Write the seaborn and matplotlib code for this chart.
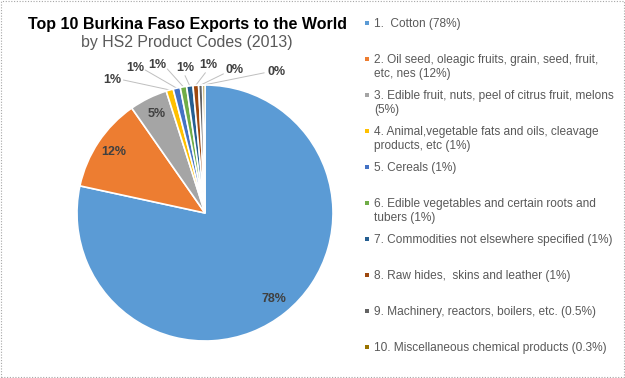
import numpy as np
import matplotlib
matplotlib.use("Agg")
import matplotlib.pyplot as plt
from matplotlib.patches import Rectangle
import seaborn as sns

# ---------------- data ----------------
title = "Top 10 Burkina Faso Exports to the World"
subtitle = "by HS2 Product Codes (2013)"
categories = [
    "1.  Cotton (78%)",
    "2. Oil seed, oleagic fruits, grain, seed, fruit,\netc, nes (12%)",
    "3. Edible fruit, nuts, peel of citrus fruit, melons\n(5%)",
    "4. Animal,vegetable fats and oils, cleavage\nproducts, etc (1%)",
    "5. Cereals (1%)",
    "6. Edible vegetables and certain roots and\ntubers (1%)",
    "7. Commodities not elsewhere specified (1%)",
    "8. Raw hides,  skins and leather (1%)",
    "9. Machinery, reactors, boilers, etc. (0.5%)",
    "10. Miscellaneous chemical products (0.3%)",
]
# shares (labels show rounded values)
values = [78.4, 11.9, 4.8, 0.9, 0.9, 0.8, 0.8, 0.7, 0.5, 0.3]
pct_labels = ["78%", "12%", "5%", "1%", "1%", "1%", "1%", "1%", "0%", "0%"]
colors = ["#5B9BD5", "#ED7D31", "#A5A5A5", "#FFC000", "#4472C4",
          "#70AD47", "#255E91", "#9E480E", "#636363", "#997300"]

# ---------------- style ----------------
sns.set_style("white")
plt.rcParams["font.family"] = ["Liberation Sans", "DejaVu Sans"]

W, H = 625, 378
fig = plt.figure(figsize=(W / 100, H / 100), dpi=100)


def px(x, y):
    return x / W, 1 - y / H


# dotted frame
fig.patches.append(Rectangle((0.001, 0.002), 0.997, 0.995, transform=fig.transFigure,
                             fill=False, edgecolor="#A6A6A6", linestyle=(0, (1, 1.5)),
                             linewidth=0.8))

# pie axes: centre (205,213), radius 128 px
cx, cy, r = 205, 213, 128
ax = fig.add_axes([(cx - r) / W, (H - cy - r) / H, 2 * r / W, 2 * r / H])

wedges, _ = ax.pie(values, colors=sns.color_palette(colors), startangle=90,
                   counterclock=False, radius=1,
                   wedgeprops=dict(edgecolor="white", linewidth=1.2))
ax.set_xlim(-1, 1)
ax.set_ylim(-1, 1)
ax.set_aspect("auto")
ax.axis("off")

lab_kw = dict(fontsize=9, fontweight="bold", color="#404040",
              ha="center", va="center")

# inside labels for the three big slices
for i in range(3):
    w = wedges[i]
    mid = np.deg2rad((w.theta1 + w.theta2) / 2)
    ax.text(0.86 * np.cos(mid), 0.86 * np.sin(mid), pct_labels[i], **lab_kw)

# outside labels (layout positions in axes data units) and leader-line starts
out_pos = [(-0.727, 1.039), (-0.547, 1.133), (-0.375, 1.156), (-0.156, 1.133),
           (0.023, 1.156), (0.234, 1.117), (0.5625, 1.10)]
line_off = [(0.09, 0.0), (0.08, -0.016), (0.08, -0.03), (0.0, -0.06),
            (-0.02, -0.06), (-0.09, -0.03), (-0.10, -0.005)]
for k, i in enumerate(range(3, 10)):
    w = wedges[i]
    mid = np.deg2rad((w.theta1 + w.theta2) / 2)
    ex, ey = np.cos(mid), np.sin(mid)
    lx, ly = out_pos[k]
    ax.text(lx, ly, pct_labels[i], **lab_kw)
    sx, sy = lx + line_off[k][0], ly + line_off[k][1]
    ax.plot([sx, ex], [sy, ey], color="#BFBFBF", lw=0.7,
            clip_on=False, zorder=0)

# title
fig.text(*px(188, 24), title, fontsize=11.5, fontweight="bold", color="black",
         ha="center", va="center")
fig.text(*px(187, 43), subtitle, fontsize=11.4, color="#595959",
         ha="center", va="center")

# legend (manual, first line of each entry on a 36 px grid)
for i, lab in enumerate(categories):
    y = 23 + 36 * i
    fig.patches.append(Rectangle(px(365, y + 2), 4 / W, 4 / H, transform=fig.transFigure,
                                 facecolor=colors[i], edgecolor="none"))
    fig.text(*px(374, y - 5), lab, fontsize=8.6, color="#595959",
             ha="left", va="top", linespacing=1.2)

fig.savefig("out.png", dpi=100)
